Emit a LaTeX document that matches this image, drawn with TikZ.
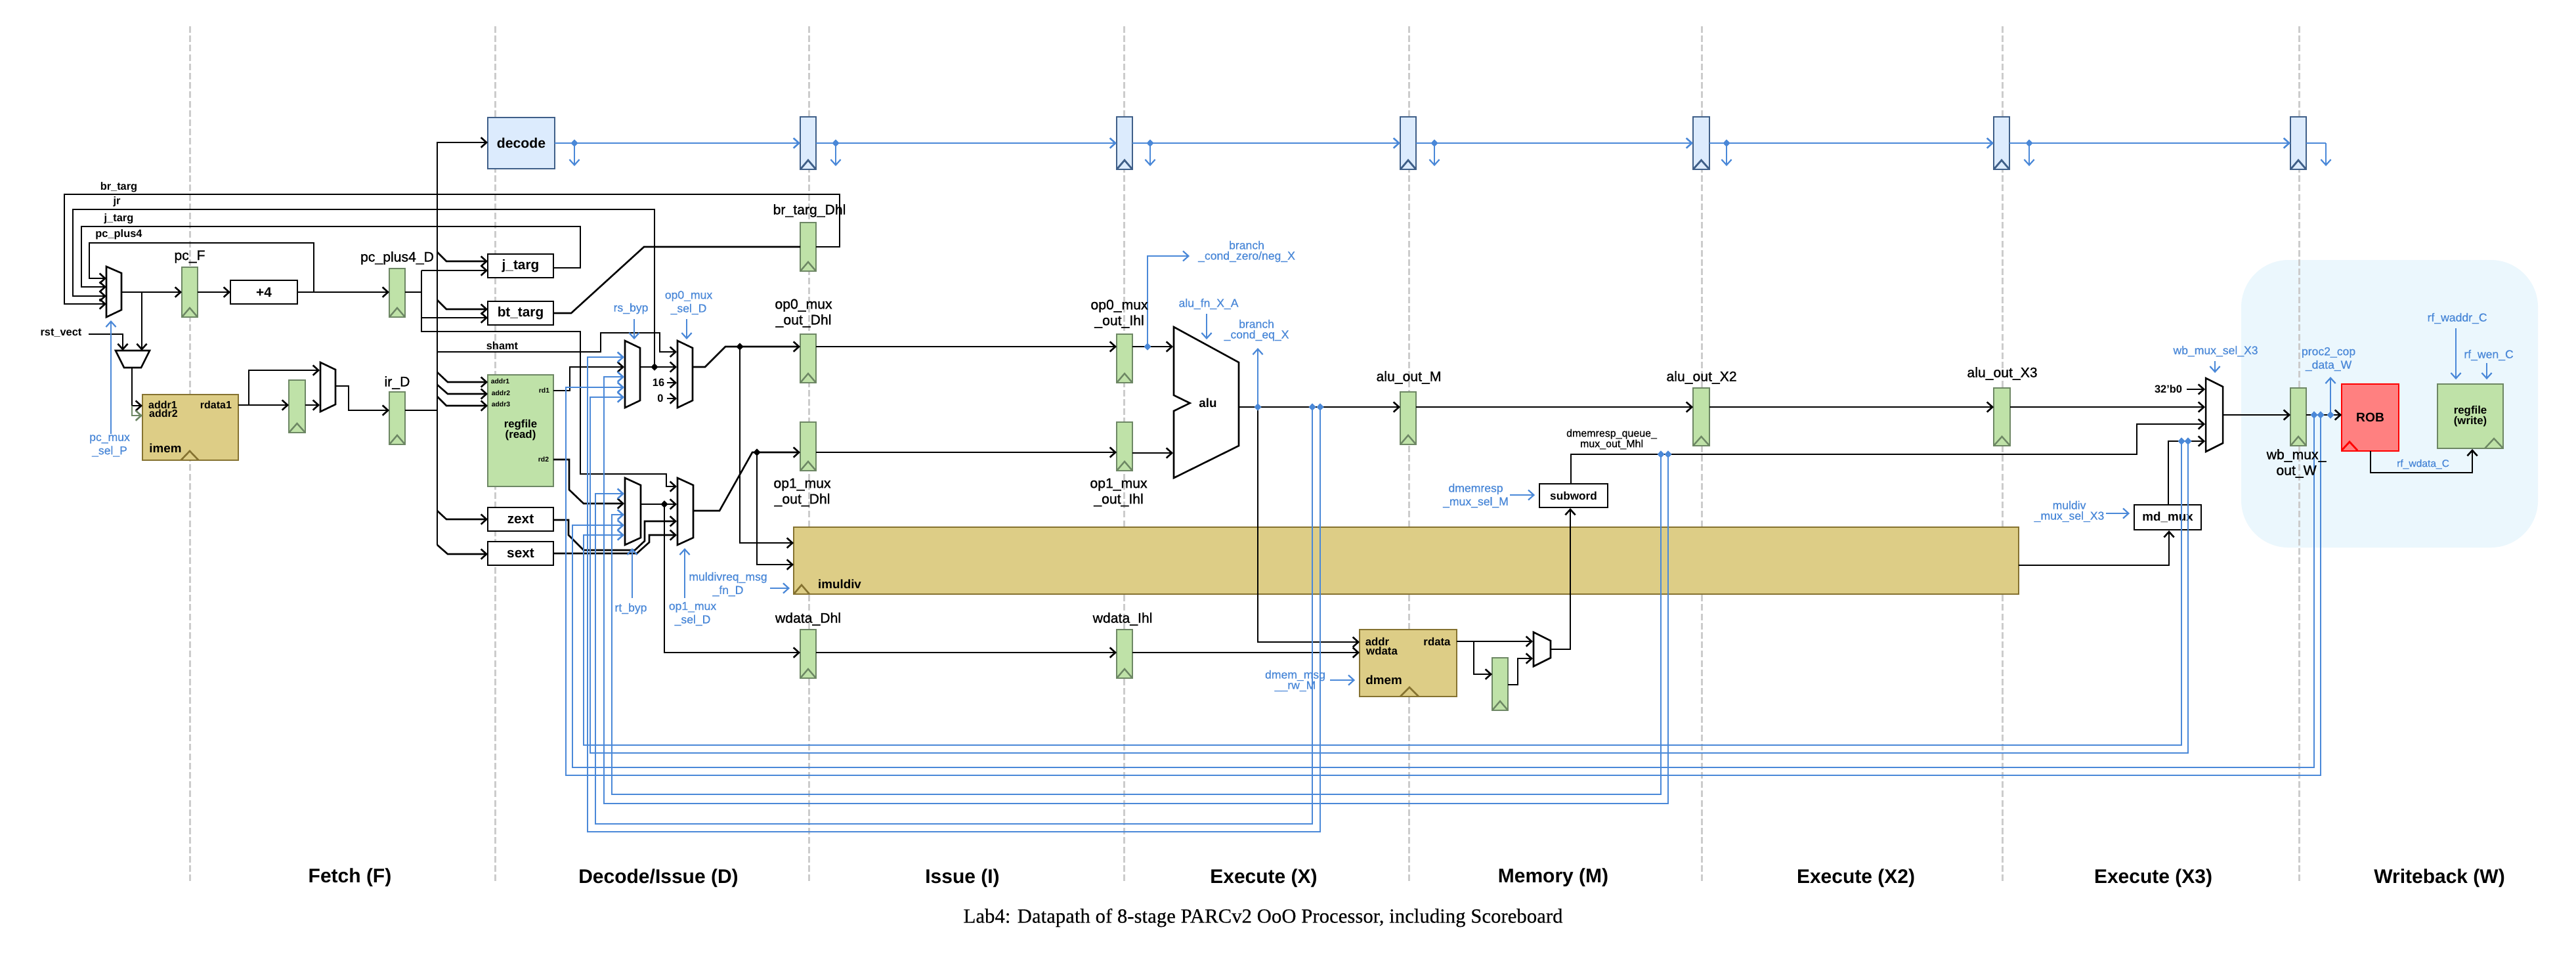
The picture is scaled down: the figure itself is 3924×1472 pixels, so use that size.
\documentclass[tikz,border=0pt]{standalone}
\usepackage{fontspec}
\setmainfont{Liberation Sans}
\newfontfamily\medfont{Liberation Sans}[FakeBold=0.5]
\newfontfamily\semifont{Liberation Sans}[FakeBold=1.0]
\newfontfamily\titlefont{Liberation Serif}[FakeBold=0.3]
\usetikzlibrary{arrows.meta,calc,shapes.geometric}
\definecolor{myblue}{HTML}{4A88D8}
\definecolor{grfill}{HTML}{BFE2A8}
\definecolor{grline}{HTML}{6D8764}
\definecolor{tanfill}{HTML}{DDCD86}
\definecolor{tanline}{HTML}{857230}
\definecolor{decfill}{HTML}{DCEBFD}
\definecolor{decline}{HTML}{3F5F88}
\definecolor{robfill}{HTML}{FF8080}
\definecolor{wbbg}{HTML}{EBF7FD}
\definecolor{dashc}{HTML}{CCCCCC}
\newcommand{\fz}[2]{\fontsize{#1}{#2}\selectfont}
\newcommand{\bx}[7]{\node[#1,minimum width={(#5-#3)*0.25pt},minimum height={(#6-#4)*0.25pt}] (#2) at ({(#3+#5)/2},{(#4+#6)/2}) {#7};}
\newcommand{\greg}[5]{\bx{gbox}{#1}{#2}{#3}{#4}{#5}{}\draw[gtri] (#1.south west) -- ($(#1.south)+(0,-14)$) -- (#1.south east);}
\newcommand{\dreg}[5]{\bx{dbox}{#1}{#2}{#3}{#4}{#5}{}\draw[dtri] (#1.south west) -- ($(#1.south)+(0,-14)$) -- (#1.south east);}
\newcommand{\muxp}[6]{\draw[muxs] (#1,#3) -- (#2,#5) -- (#2,#6) -- (#1,#4) -- cycle;}
\tikzset{
 x=0.25pt,y=-0.25pt,
 w/.style={draw=black,line width=0.65pt},
 bw/.style={draw=myblue,line width=0.65pt},
 tw/.style={draw=myblue,line width=0.55pt},
 gw/.style={draw=grline,line width=0.65pt},
 arr/.style={-{Straight Barb[length=2.1pt,width=3.8pt]}},
 boxbase/.style={rectangle,inner sep=0pt,outer sep=0pt,text=black},
 gbox/.style={boxbase,draw=grline,fill=grfill,line width=0.65pt},
 gtri/.style={draw=grline,line width=0.6pt},
 dbox/.style={boxbase,draw=decline,fill=decfill,line width=0.7pt},
 dtri/.style={draw=decline,line width=0.7pt},
 tbox/.style={boxbase,draw=tanline,fill=tanfill,line width=0.65pt},
 ttri/.style={draw=tanline,line width=0.65pt},
 kbox/.style={boxbase,draw=black,fill=white,line width=0.68pt,font=\bfseries\fz{5.2}{6}},
 muxs/.style={draw=black,fill=white,line width=0.65pt},
 blab/.style={inner sep=0pt,text=myblue,align=center,font=\medfont\fz{4.4}{4}},
 rlab/.style={inner sep=0pt,text=black,align=center,font=\semifont\fz{5.3}{6}},
 slab/.style={inner sep=0pt,text=black,align=center,font=\bfseries\fz{4.1}{4.6}},
 ilab/.style={inner sep=0pt,text=black,align=center,font=\bfseries\fz{4.7}{5}},
 tinylab/.style={inner sep=0pt,text=black,align=center,font=\bfseries\fz{2.6}{3}},
 stage/.style={inner sep=0pt,text=black,font=\bfseries\fz{7.5}{9}},
 bdot/.style={diamond,aspect=1,fill=myblue,inner sep=0pt,minimum width=2.9pt,minimum height=3pt},
 kdot/.style={diamond,aspect=1,fill=black,inner sep=0pt,minimum width=2.9pt,minimum height=3pt},
}
\begin{document}
\begin{tikzpicture}
\useasboundingbox (0,0) rectangle (3924,1472);
\fill[white] (0,0) rectangle (3924,1472);
% Writeback region
\bx{boxbase,fill=wbbg,rounded corners=18pt}{wbregion}{3414}{396}{3866}{834}{}
% Stage separators
\foreach \sx in {289,754,1232,1712,2146,2592,3050,3502}
  \draw[dashc,line width=0.75pt,dash pattern=on 2.5pt off 1.05pt] (\sx,40) -- (\sx,1345);
% ---------- Boxes
\bx{dbox,font=\bfseries\fz{5.3}{6}}{decode}{743}{179}{845}{257}{decode}
\dreg{tr1}{1219}{178}{1243}{258}
\dreg{tr2}{1701}{178}{1725}{258}
\dreg{tr3}{2133}{178}{2157}{258}
\dreg{tr4}{2579}{178}{2604}{258}
\dreg{tr5}{3037}{178}{3061}{258}
\dreg{tr6}{3489}{178}{3513}{258}
\greg{pcF}{277}{407}{301}{483}
\bx{kbox}{plusF}{351}{427}{453}{463}{+4}
\greg{pcpD}{593}{409}{617}{483}
\bx{tbox}{imem}{217}{601}{363}{701}{}
\draw[ttri] (275.5,701) -- (289,687) -- (302.5,701);
\greg{fReg}{440}{579}{465}{659}
\greg{irD}{593}{597}{617}{677}
\bx{kbox}{jt}{743}{387}{843}{423}{j\_targ}
\bx{kbox}{bt}{743}{459}{843}{495}{bt\_targ}
\bx{gbox}{rfR}{743}{571}{843}{741}{}
\bx{kbox}{zext}{743}{773}{843}{809}{zext}
\bx{kbox}{sext}{743}{825}{843}{861}{sext}
\greg{brD}{1219}{339}{1243}{413}
\greg{op0D}{1219}{509}{1243}{583}
\greg{op1D}{1219}{643}{1243}{717}
\greg{wdD}{1219}{959}{1243}{1033}
\greg{op0I}{1701}{509}{1725}{583}
\greg{op1I}{1701}{643}{1725}{717}
\greg{wdI}{1701}{959}{1725}{1033}
\greg{aluM}{2133}{597}{2157}{677}
\greg{aluX2}{2579}{591}{2604}{679}
\greg{aluX3}{3037}{591}{3062}{679}
\greg{wbW}{3489}{591}{3513}{679}
\greg{dmR}{2273}{1002}{2297}{1082}
\bx{tbox}{imul}{1209}{803}{3075}{905}{}
\draw[ttri] (1209,905) -- (1221,891) -- (1233,905);
\bx{tbox}{dmem}{2071}{959}{2219}{1061}{}
\draw[ttri] (2133,1061) -- (2147,1047) -- (2161,1061);
\bx{kbox,font=\bfseries\fz{4.3}{5}}{subw}{2345}{737}{2449}{773}{subword}
\bx{kbox,font=\bfseries\fz{4.7}{5}}{mdmux}{3251}{769}{3353}{807}{md\_mux}
\bx{boxbase,draw=red,fill=robfill,line width=0.7pt,font=\bfseries\fz{4.8}{5}}{rob}{3567}{585}{3654}{687}{ROB}
\draw[draw=red,line width=0.7pt] (3567,686) -- (3579,673) -- (3591,686);
\bx{gbox,align=center,font=\bfseries\fz{4.2}{4}}{rfW}{3713}{585}{3813}{683}{regfile\\(write)}
\draw[gtri] (3785,683) -- (3799,668) -- (3813,683);
% ---------- Muxes
\muxp{162}{185}{406}{483}{416}{472}
\draw[muxs] (176,534) -- (228,534) -- (215,560) -- (189,560) -- cycle;
\muxp{488}{511}{552}{627}{563}{616}
\muxp{952}{975}{519}{621}{530}{610}
\muxp{1032}{1055}{519}{621}{530}{610}
\muxp{952}{976}{728}{830}{739}{819}
\muxp{1032}{1056}{728}{830}{739}{819}
\draw[muxs] (1788,498) -- (1887,552) -- (1887,679) -- (1788,728) -- (1788,626) -- (1812.5,614) -- (1788,602) -- cycle;
\muxp{2336}{2362}{963}{1015}{976}{1002}
\muxp{3360}{3386}{576}{688}{589}{675}
% ---------- Junctions and pins
\coordinate (muxPa) at (162,424);
\coordinate (muxPb) at (162,437);
\coordinate (muxPc) at (162,451);
\coordinate (muxPd) at (162,463);
\coordinate (muxPo) at (185,445);
\coordinate (jPlus) at (478,445);
\coordinate (jPc) at (216,445);
\coordinate (jD) at (642,445);
\coordinate (jImem) at (379,617);
\coordinate (imemA) at (217,618);
\coordinate (imemB) at (217,633);
\coordinate (rs0) at (951,544);
\coordinate (rs1) at (951,559);
\coordinate (rs2) at (951,574);
\coordinate (rs3) at (951,590);
\coordinate (rs4) at (951,605);
\coordinate (rt0) at (951,752);
\coordinate (rt1) at (951,767);
\coordinate (rt2) at (951,784);
\coordinate (rt3) at (951,800);
\coordinate (rt4) at (951,815);
\coordinate (sa0) at (1031,536);
\coordinate (sa1) at (1031,559);
\coordinate (sa2) at (1031,583);
\coordinate (sa3) at (1031,607);
\coordinate (sb0) at (1031,741);
\coordinate (sb1) at (1031,768);
\coordinate (sb2) at (1031,794);
\coordinate (sb3) at (1031,815);
\coordinate (j0a) at (997,559);
\coordinate (j0b) at (1127,528);
\coordinate (j1a) at (1153,689);
\coordinate (j1b) at (1012,768);
\coordinate (jOp0) at (1748,528);
\coordinate (jAlu) at (1916,620);
\coordinate (jA1) at (1999,620);
\coordinate (jA2) at (2011,620);
\coordinate (jM1) at (2530,692);
\coordinate (jM2) at (2541,692);
\coordinate (jX1) at (3323,672);
\coordinate (jX2) at (3333,672);
\coordinate (jW1) at (3525,632);
\coordinate (jW2) at (3535,632);
\coordinate (jW3) at (3550,632);
\coordinate (wbA) at (3359,593);
\coordinate (wbB) at (3359,620);
\coordinate (wbC) at (3359,646);
\coordinate (wbD) at (3359,672);
\coordinate (t0) at (875,218);
\coordinate (t1) at (1273,218);
\coordinate (t2) at (1752,218);
\coordinate (t3) at (2185,218);
\coordinate (t4) at (2630,218);
\coordinate (t5) at (3091,218);
% ---------- Black wires: fetch
\draw[w,arr] (muxPo) -- (pcF.west |- muxPo);
\draw[w,arr] (pcF.east |- muxPo) -- (plusF.west |- muxPo);
\draw[w,arr] (plusF.east |- muxPo) -- (pcpD.west |- muxPo);
\draw[w,arr] (jPlus) |- (136,370) |- (muxPa);
\draw[w,arr] (1243,376) -| (1279,296) -| (98,463) -- (muxPd);
\draw[w,arr] (j0a) |- (111,319) |- (muxPc);
\draw[w,arr] (jt.east |- 0,408) -| (884,345) -| (124,437) -- (muxPb);
\draw[w] (bt.east |- 0,477) -- (870,477) -- (981,376) -- (brD.west |- 0,376);
\coordinate (rstO) at (135,509);
\draw[w,arr] (rstO) -| (187,534);
\draw[w,arr] (jPc) -- (216,534);
\draw[w,arr] (201,560) |- (imemA);
\draw[gw,arr] (201,618) |- (imemB);
\draw[w,arr] (imem.east |- jImem) -- (fReg.west |- jImem);
\draw[w,arr] (jImem) |- (487,564);
\draw[w,arr] (fReg.east |- jImem) -- (487,617);
\draw[w,arr] (511,588) -| (531,625) -- (irD.west |- 0,625);
\draw[w] (irD.east |- 0,625) -- (666,625);
\draw[w,arr] (666,830) -- (666,217) -- (decode.west |- 0,217);
% bus branches
\draw[w,arr] (666,384) -- (680,398) -- (jt.west |- 0,398);
\draw[w,arr] (666,457) -- (680,471) -- (bt.west |- 0,471);
\draw[w,arr] (666,567) -- (682,582) -- (rfR.west |- 0,582);
\draw[w,arr] (666,586) -- (682,600) -- (rfR.west |- 0,600);
\draw[w,arr] (666,604) -- (680,618) -- (rfR.west |- 0,618);
\draw[w,arr] (666,778) -- (680,791) -- (zext.west |- 0,791);
\draw[w,arr] (666,830) -- (682,844) -- (sext.west |- 0,844);
\draw[w,arr] (666,536) -| (915,507) -| (1005,536) -- (sa0);
% pc_plus4_D outputs
\draw[w] (pcpD.east |- jD) -- (jD);
\draw[w,arr] (642,412) -- (jt.west |- 0,412);
\draw[w,arr] (642,484) -- (bt.west |- 0,484);
\draw[w,arr] (642,412) -- (642,505) -| (884,722) -| (1015,741) -- (sb0);
% regfile read outputs
\draw[w,arr] (rfR.east |- 0,595) -| (868,559) -- (rs1);
\draw[w,arr] (rfR.east |- 0,700) -- (867,700) -- (867,746) -- (889,767) -- (rt1);
\draw[w,arr] (975,559) -- (sa1);
\draw[w,arr] (1016,583) -- (sa2);
\draw[w,arr] (1016,607) -- (sa3);
\draw[w,arr] (976,768) -- (sb1);
\draw[w,arr] (zext.east |- 0,792) -- (866,792) -- (866,815) -- (889,838) -- (967,838) -- (982,824) -- (982,794) -- (sb2);
\draw[w,arr] (sext.east |- 0,843) -- (970,843) -- (989,826) -- (989,815) -- (sb3);
\draw[w,arr] (1055,559) -- (1074,559) -- (1105,528) -- (op0D.west |- 0,528);
\draw[w,arr] (1056,778) -- (1096,778) -- (1146,689) -- (op1D.west |- 0,689);
\draw[w,arr] (j0b) |- (imul.west |- 0,827);
\draw[w,arr] (j1a) |- (imul.west |- 0,860);
\draw[w,arr] (j1b) |- (wdD.west |- 0,994);
\draw[w,arr] (op0D.east |- 0,528) -- (op0I.west |- 0,528);
\draw[w,arr] (op1D.east |- 0,689) -- (op1I.west |- 0,689);
\draw[w,arr] (wdD.east |- 0,994) -- (wdI.west |- 0,994);
\draw[w,arr] (op0I.east |- 0,528) -- (1787,528);
\draw[w,arr] (op1I.east |- 0,690) -- (1787,690);
\draw[w,arr] (wdI.east |- 0,994) -- (dmem.west |- 0,994);
% execute, memory
\draw[w,arr] (1887,620) -- (aluM.west |- 0,620);
\draw[w,arr] (aluM.east |- 0,620) -- (aluX2.west |- 0,620);
\draw[w,arr] (aluX2.east |- 0,620) -- (aluX3.west |- 0,620);
\draw[w,arr] (aluX3.east |- 0,620) -- (wbB);
\draw[w,arr] (jAlu) |- (dmem.west |- 0,978);
\draw[w,arr] (dmem.east |- 0,977) -- (2335,977);
\draw[w,arr] (2245,977) |- (dmR.west |- 0,1027);
\draw[w,arr] (dmR.east |- 0,1043) -| (2312,1003) -- (2335,1003);
\draw[w,arr] (2362,989) -| (2392,774);
\draw[w,arr] (2393,737) |- (3255,692) |- (wbC);
\draw[w,arr] (imul.east |- 0,861) -| (3304,808);
\draw[w,arr] (3303,769) |- (wbD);
\draw[w,arr] (3331,593) -- (wbA);
\draw[w,arr] (3386,632) -- (wbW.west |- 0,632);
\draw[w,arr] (wbW.east |- 0,632) -- (rob.west |- 0,632);
\draw[w,arr] (3611,687) |- (3766,720) -- (3766,684);
% ---------- Blue wires: top row
\draw[bw,arr] (decode.east |- 0,218) -- (tr1.west |- 0,218);
\draw[bw,arr] (tr1.east |- 0,218) -- (tr2.west |- 0,218);
\draw[bw,arr] (tr2.east |- 0,218) -- (tr3.west |- 0,218);
\draw[bw,arr] (tr3.east |- 0,218) -- (tr4.west |- 0,218);
\draw[bw,arr] (tr4.east |- 0,218) -- (tr5.west |- 0,218);
\draw[bw,arr] (tr5.east |- 0,218) -- (tr6.west |- 0,218);
\draw[tw] (tr6.east |- 0,218) -- (3543,218);
\draw[tw,arr] (3543,218) -- (3543,253);
\foreach \tt in {t0,t1,t2,t3,t4,t5} \draw[tw,arr] (\tt) -- ++(0,35);
% bypass wires
\draw[bw,arr] (jA2) |- (895,1267) |- (rs0);
\draw[bw,arr] (jA1) |- (907,1255) |- (rt0);
\draw[bw,arr] (jM2) |- (920,1224) |- (rs2);
\draw[bw,arr] (jM1) |- (932,1210) |- (rt2);
\draw[bw,arr] (jX2) |- (899,1147) |- (rs4);
\draw[bw,arr] (jX1) |- (889,1135) |- (rt4);
\draw[bw,arr] (jW2) |- (862,1181) |- (rs3);
\draw[bw,arr] (jW1) |- (872,1169) |- (rt3);
% control arrows
\draw[tw,arr] (169,661) -- (169,488);
\draw[tw,arr] (966,486) -- (966,517);
\draw[tw,arr] (1046,486) -- (1046,517);
\draw[tw,arr] (963,911) -- (963,835);
\draw[tw,arr] (1043,911) -- (1043,835);
\draw[tw,arr] (1173,896) -- (1203,896);
\draw[tw,arr] (jOp0) |- (1812,390);
\draw[tw,arr] (1838,478) -- (1838,517);
\draw[tw,arr] (jAlu) -- (1916,530);
\draw[tw,arr] (2300,754) -- (2338,754);
\draw[tw,arr] (2026,1036) -- (2064,1036);
\draw[tw,arr] (3208,782) -- (3244,782);
\draw[tw,arr] (3374,550) -- (3374,568);
\draw[tw,arr] (jW3) -- (3550,574);
\draw[tw,arr] (3741,500) -- (3741,578);
\draw[tw,arr] (3788,553) -- (3788,578);
% ---------- Junction dots
\node[kdot] (d1) at (j0a) {};
\node[kdot] (d2) at (j0b) {};
\node[kdot] (d3) at (j1a) {};
\node[kdot] (d4) at (j1b) {};
\foreach \dn in {jOp0,jAlu,jA1,jA2,jM1,jM2,jX1,jX2,jW1,jW2,jW3,t0,t1,t2,t3,t4,t5}
  \node[bdot] (dot\dn) at (\dn) {};
% ---------- Labels
\node[slab] (lbr) at (181,285) {br\_targ};
\node[slab] (ljr) at (178,307) {jr};
\node[slab] (ljt) at (181,333) {j\_targ};
\node[slab] (lpp) at (181,357) {pc\_plus4};
\node[slab] (lrst) at (93,507) {rst\_vect};
\node[slab] (lsh) at (765,527) {shamt};
\node[blab] (lpms) at (167,679) {pc\_mux\\\_sel\_P};
\node[rlab] (lpcF) at (289,391) {pc\_F};
\node[rlab] (lpcD) at (605,393) {pc\_plus4\_D};
\node[rlab] (lirD) at (605,583) {ir\_D};
\node[ilab,font=\bfseries\fz{4}{4.5}] (la1) at (248,617) {addr1};
\node[ilab,font=\bfseries\fz{4}{4.5}] (la2) at (249,630) {addr2};
\node[ilab,font=\bfseries\fz{4}{4.5}] (lr1) at (329,617) {rdata1};
\node[ilab] (limem) at (252,683) {imem};
\node[tinylab] (lq1) at (762,581) {addr1};
\node[tinylab] (lq2) at (763,599) {addr2};
\node[tinylab] (lq3) at (763,616) {addr3};
\node[tinylab] (lrd1) at (829,595) {rd1};
\node[tinylab] (lrd2) at (828,700) {rd2};
\node[ilab,font=\bfseries\fz{4.2}{4}] (lrf) at (793,655) {regfile\\(read)};
\node[slab] (l16) at (1003,583) {16};
\node[slab] (l0) at (1006,607) {0};
\node[blab] (lrs) at (961,470) {rs\_byp};
\node[blab] (los) at (1049,461) {op0\_mux\\\_sel\_D};
\node[blab] (lrt) at (961,927) {rt\_byp};
\node[blab] (l1s) at (1055,935) {op1\_mux\\\_sel\_D};
\node[blab] (lmd) at (1109,890) {muldivreq\_msg\\\_fn\_D};
\node[rlab] (lbrD) at (1233,321) {br\_targ\_Dhl};
\node[rlab] (l0D) at (1224,477) {op0\_mux\\\_out\_Dhl};
\node[rlab] (l1D) at (1222,750) {op1\_mux\\\_out\_Dhl};
\node[rlab] (lwD) at (1231,943) {wdata\_Dhl};
\node[ilab] (lim) at (1279,890) {imuldiv};
\node[rlab] (l0I) at (1705,478) {op0\_mux\\\_out\_Ihl};
\node[rlab] (l1I) at (1704,750) {op1\_mux\\\_out\_Ihl};
\node[rlab] (lwI) at (1710,943) {wdata\_Ihl};
\node[ilab] (lalu) at (1840,614) {alu};
\node[blab] (lbz) at (1899,383) {branch\\\_cond\_zero/neg\_X};
\node[blab] (lfn) at (1841,463) {alu\_fn\_X\_A};
\node[blab] (lbe) at (1914,503) {branch\\\_cond\_eq\_X};
\node[rlab] (lM) at (2146,575) {alu\_out\_M};
\node[blab] (ldr) at (2248,755) {dmemresp\\\_mux\_sel\_M};
\node[inner sep=0pt,align=center,font=\medfont\fz{4}{4}] (ldq) at (2455,669) {dmemresp\_queue\_\\mux\_out\_Mhl};
\node[blab] (ldm) at (1973,1037) {dmem\_msg\\\_\_rw\_M};
\node[ilab,font=\bfseries\fz{4.2}{5}] (laddr) at (2098,977) {addr};
\node[ilab,font=\bfseries\fz{4.2}{5}] (lwd) at (2105,991) {wdata};
\node[ilab,font=\bfseries\fz{4.2}{5}] (lrd) at (2189,977) {rdata};
\node[ilab] (ldmem) at (2108,1036) {dmem};
\node[rlab] (lX2) at (2592,575) {alu\_out\_X2};
\node[rlab] (lX3) at (3050,569) {alu\_out\_X3};
\node[blab] (lms) at (3152,779) {muldiv\\\_mux\_sel\_X3};
\node[slab] (l32) at (3303,593) {32'b0};
\node[blab] (lwb) at (3375,535) {wb\_mux\_sel\_X3};
\node[rlab] (lwbW) at (3498,706) {wb\_mux\_\\out\_W};
\node[blab] (lpc) at (3547,547) {proc2\_cop\\\_data\_W};
\node[blab,font=\medfont\fz{3.9}{4}] (lrw) at (3691,707) {rf\_wdata\_C};
\node[blab] (lra) at (3743,485) {rf\_waddr\_C};
\node[blab] (lre) at (3791,541) {rf\_wen\_C};
% Stage names and title
\node[stage] (sF) at (533,1337) {Fetch (F)};
\node[stage] (sD) at (1003,1338) {Decode/Issue (D)};
\node[stage] (sI) at (1466,1338) {Issue (I)};
\node[stage] (sX) at (1925,1338) {Execute (X)};
\node[stage] (sM) at (2366,1337) {Memory (M)};
\node[stage] (sX2) at (2827,1338) {Execute (X2)};
\node[stage] (sX3) at (3280,1338) {Execute (X3)};
\node[stage] (sW) at (3716,1338) {Writeback (W)};
\node[inner sep=0pt,font=\titlefont\fz{7.7}{9}] (title) at (1924,1398) {Lab4: Datapath of 8-stage PARCv2 OoO Processor, including Scoreboard};
\end{tikzpicture}
\end{document}
